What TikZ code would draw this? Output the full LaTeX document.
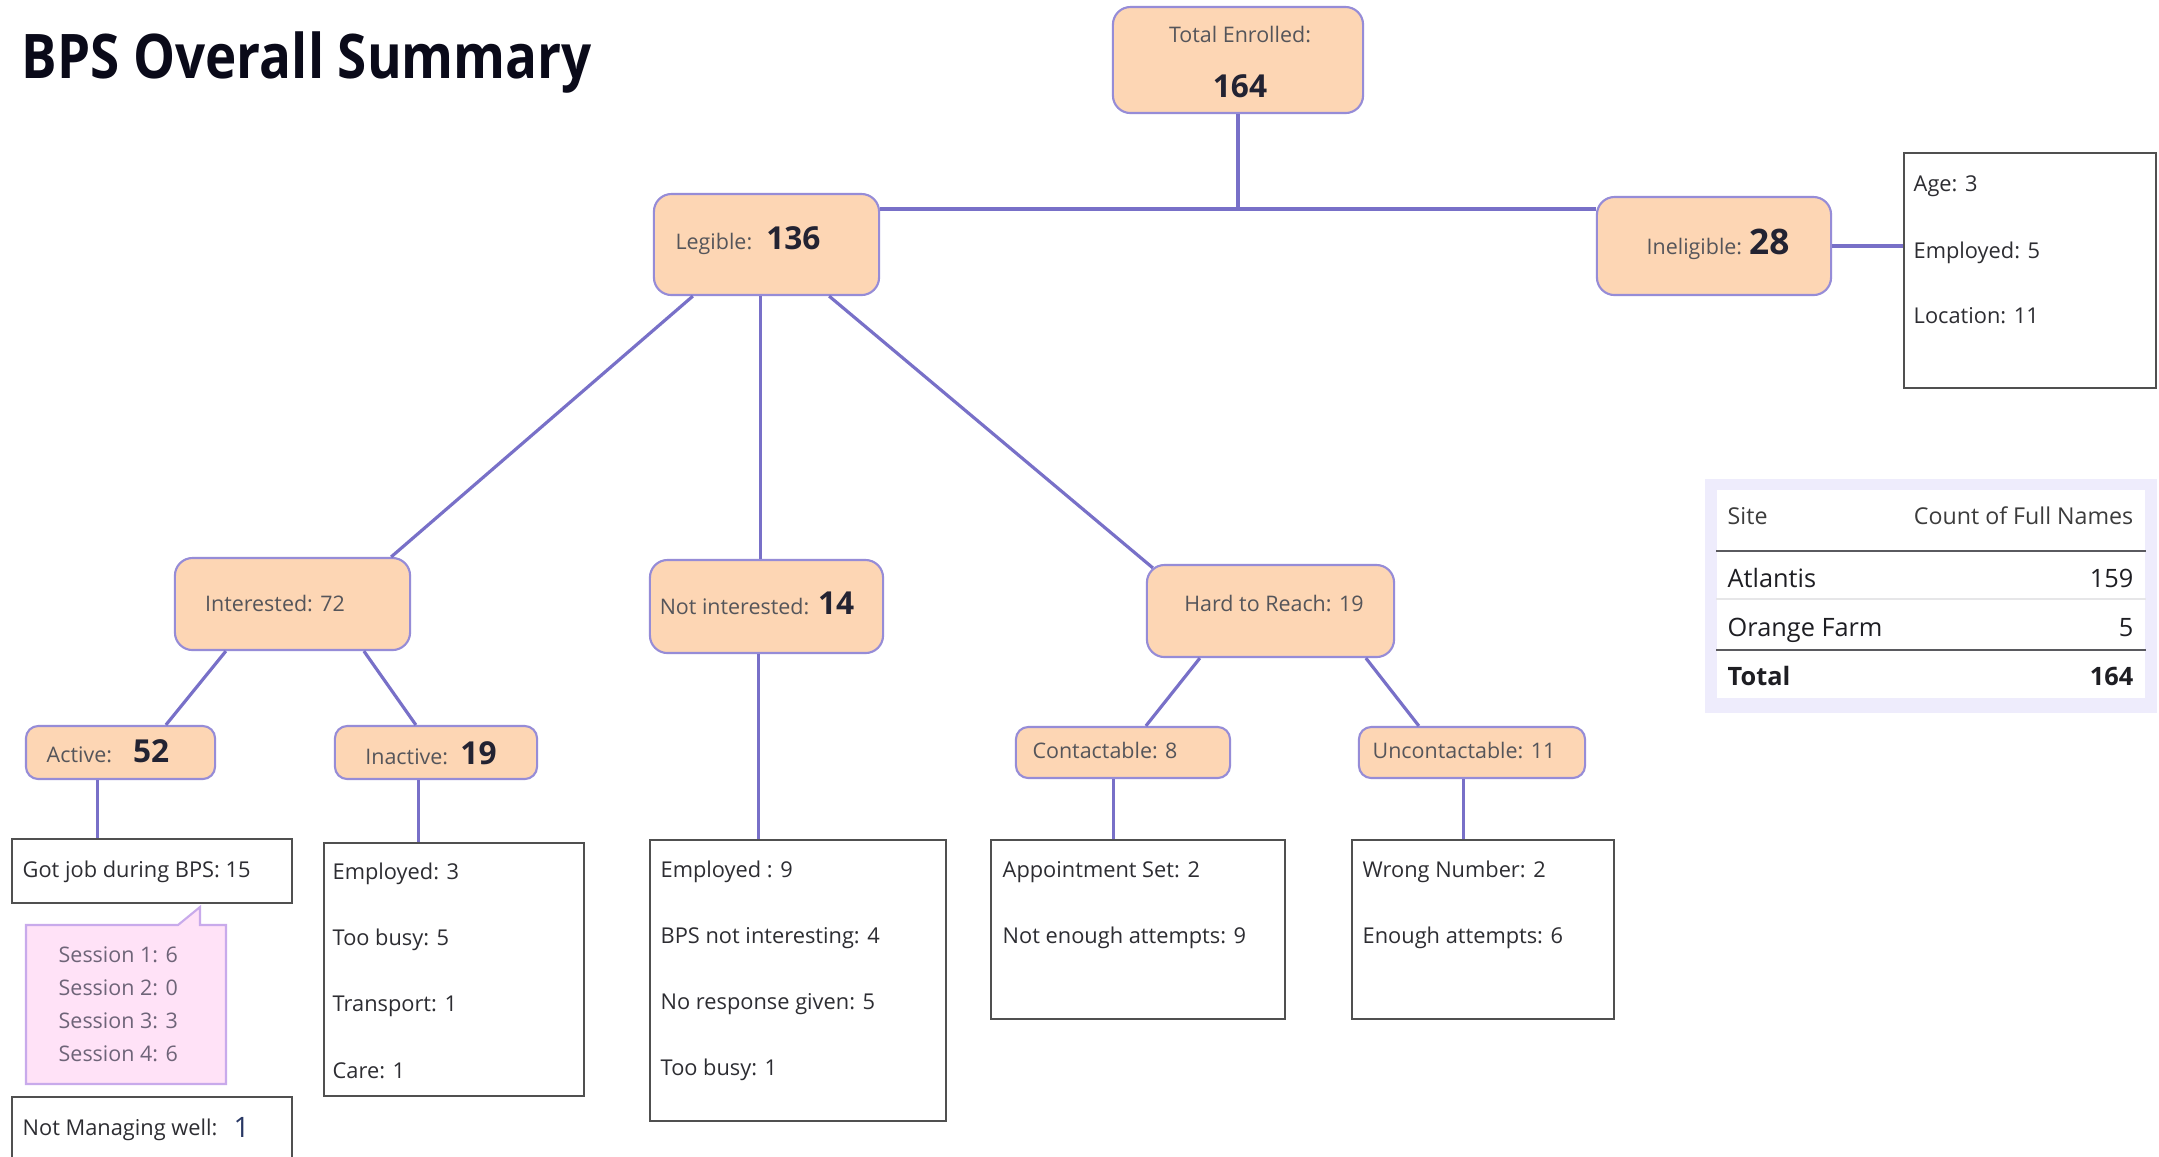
\documentclass[tikz,border=0pt]{standalone}
\usepackage{fontspec}
\setmainfont{Open Sans}
\newfontfamily\titlefont{Open Sans}[FakeStretch=0.86]
\usetikzlibrary{calc}
\definecolor{peach}{RGB}{253,214,180}
\definecolor{lav}{RGB}{150,140,215}
\definecolor{connc}{RGB}{120,112,200}
\definecolor{lblc}{RGB}{85,85,90}
\definecolor{numc}{RGB}{35,35,50}
\definecolor{listc}{RGB}{45,45,50}
\definecolor{wborder}{RGB}{80,80,80}
\definecolor{pinkf}{RGB}{255,226,247}
\definecolor{pinkb}{RGB}{200,170,235}
\definecolor{sessc}{RGB}{110,100,120}
\definecolor{tblbg}{RGB}{238,236,252}
\newcommand\bignum[2][9]{{\fontsize{#1}{#1}\selectfont\bfseries\color{numc}#2}}
\begin{document}
\begin{tikzpicture}[x=0.01cm,y=-0.01cm,
  obox/.style={draw=lav, line width=0.6pt, fill=peach, rounded corners=5pt, inner sep=0pt},
  sbox/.style={obox, rounded corners=3.5pt},
  wbox/.style={draw=wborder, line width=0.6pt, fill=white, inner sep=0pt},
  connline/.style={draw=connc, line width=0.9pt},
  lbltxt/.style={inner sep=0pt, anchor=mid, font=\fontsize{6.1}{7}\selectfont, text=lblc},
  listtxt/.style={inner sep=0pt, anchor=mid west, font=\fontsize{6.2}{7.5}\selectfont, text=listc},
  sesstxt/.style={inner sep=0pt, anchor=mid west, font=\fontsize{6.1}{7}\selectfont, text=sessc},
  hdrtxt/.style={inner sep=0pt, font=\fontsize{6.6}{7.5}\selectfont, text={rgb,255:red,60;green,60;blue,60}},
  rowtxt/.style={inner sep=0pt, font=\fontsize{7.2}{8}\selectfont, text={rgb,255:red,30;green,30;blue,35}},
]
\fill[white] (0,0) rectangle (2159,1156);
\useasboundingbox (0,0) rectangle (2159,1156);

% title
\node[anchor=base west, inner sep=0pt, font=\titlefont\bfseries\fontsize{17.5}{20}\selectfont, text={rgb,255:red,10;green,10;blue,25}] (title) at (21,78) {BPS Overall Summary};

% orange boxes
\node[obox, minimum width=2.50cm, minimum height=1.06cm] (total) at (1238,60) {};
\node[obox, minimum width=2.25cm, minimum height=1.01cm] (legible) at (766.5,244.5) {};
\node[obox, minimum width=2.34cm, minimum height=0.98cm] (inelig) at (1714,246) {};
\node[obox, minimum width=2.35cm, minimum height=0.92cm] (interested) at (292.5,604) {};
\node[obox, minimum width=2.33cm, minimum height=0.93cm] (notint) at (766.5,606.5) {};
\node[obox, minimum width=2.47cm, minimum height=0.92cm] (htr) at (1270.5,611) {};
\node[sbox, minimum width=1.89cm, minimum height=0.53cm] (active) at (120.5,752.5) {};
\node[sbox, minimum width=2.02cm, minimum height=0.53cm] (inactive) at (436,752.5) {};
\node[sbox, minimum width=2.14cm, minimum height=0.51cm] (contact) at (1123,752.5) {};
\node[sbox, minimum width=2.26cm, minimum height=0.51cm] (uncontact) at (1472,752.5) {};

% white boxes
\node[wbox, minimum width=2.52cm, minimum height=2.35cm] (ineligList) at (2030,270.5) {};
\node[wbox, minimum width=2.80cm, minimum height=0.64cm] (gotjob) at (152,871) {};
\node[wbox, minimum width=2.60cm, minimum height=2.53cm] (inactList) at (454,969.5) {};
\node[wbox, minimum width=2.96cm, minimum height=2.81cm] (notintList) at (798,980.5) {};
\node[wbox, minimum width=2.94cm, minimum height=1.79cm] (contactList) at (1138,929.5) {};
\node[wbox, minimum width=2.62cm, minimum height=1.79cm] (uncontactList) at (1483,929.5) {};
\node[wbox, minimum width=2.80cm, minimum height=0.80cm] (notmanaging) at (152,1137) {};

% callout
\draw[fill=pinkf, draw=pinkb, line width=0.6pt] (26,925) -- (178,925) -- (200,907) -- (200,925) -- (226,925) -- (226,1084) -- (26,1084) -- cycle;

% connectors
\coordinate (hbar) at (1238,209);
\draw[connline] (total.south) -- (hbar);
\draw[connline] (legible.east |- hbar) -- (inelig.west |- hbar);
\draw[connline] (inelig.east) -- (inelig.east -| ineligList.west);
\draw[connline] ($(legible.south west)+(40,0)$) -- ($(interested.north east)+(-20,0)$);
\draw[connline] ($(legible.south)+(-6,0)$) -- ($(notint.north)+(-6,0)$);
\draw[connline] ($(legible.south east)+(-51,0)$) -- ($(htr.north west)+(7,4)$);
\draw[connline] ($(interested.south west)+(52,0)$) -- ($(active.north west)+(141,0)$);
\draw[connline] ($(interested.south west)+(190,0)$) -- ($(inactive.north west)+(82,0)$);
\draw[connline] ($(htr.south west)+(54,0)$) -- ($(contact.north west)+(131,0)$);
\draw[connline] ($(htr.south west)+(220,0)$) -- ($(uncontact.north west)+(61,0)$);
\draw[connline] ($(active.south west)+(73,0)$) coordinate (c1) -- (c1 |- gotjob.north);
\draw[connline] ($(inactive.south west)+(85,0)$) coordinate (c2) -- (c2 |- inactList.north);
\draw[connline] ($(notint.south west)+(110,0)$) coordinate (c3) -- (c3 |- notintList.north);
\draw[connline] ($(contact.south west)+(99,0)$) coordinate (c4) -- (c4 |- contactList.north);
\draw[connline] ($(uncontact.south west)+(106,0)$) coordinate (c5) -- (c5 |- uncontactList.north);

% labels in orange boxes
\node[lbltxt] (ttot) at (1240,33) {Total Enrolled:};
\node[inner sep=0pt, anchor=mid] (ttotn) at (1240,88) {\bignum{164}};
\node[lbltxt] (tleg) at (748,240) {Legible:\hspace{4pt}\bignum{136}};
\node[lbltxt] (tinel) at (1718,245) {Ineligible:\hspace{2pt}\bignum[10]{28}};
\node[lbltxt] (tint) at (275,602) {Interested: 72};
\node[lbltxt] (tnot) at (757,605) {Not interested:\hspace{2.5pt}\bignum{14}};
\node[lbltxt] (thtr) at (1274,602) {Hard to Reach: 19};
\node[lbltxt] (tact) at (108,753) {Active:\hspace{6pt}\bignum{52}};
\node[lbltxt] (tinact) at (431,755) {Inactive:\hspace{3.5pt}\bignum{19}};
\node[lbltxt] (tcon) at (1105,749) {Contactable: 8};
\node[lbltxt] (tuncon) at (1464,749) {Uncontactable: 11};

% list texts
\node[listtxt] (l1) at (1913,182) {Age: 3};
\node[listtxt] (l2) at (1913,249) {Employed: 5};
\node[listtxt] (l3) at (1913,314) {Location: 11};
\node[listtxt] (g1) at (22,868) {Got job during BPS: 15};
\node[listtxt] (i1) at (332,870) {Employed: 3};
\node[listtxt] (i2) at (332,936) {Too busy: 5};
\node[listtxt] (i3) at (332,1002) {Transport: 1};
\node[listtxt] (i4) at (332,1069) {Care: 1};
\node[listtxt] (n1) at (660,868) {Employed : 9};
\node[listtxt] (n2) at (660,934) {BPS not interesting: 4};
\node[listtxt] (n3) at (660,1000) {No response given: 5};
\node[listtxt] (n4) at (660,1066) {Too busy: 1};
\node[listtxt] (k1) at (1002,868) {Appointment Set: 2};
\node[listtxt] (k2) at (1002,934) {Not enough attempts: 9};
\node[listtxt] (u1) at (1362,868) {Wrong Number: 2};
\node[listtxt] (u2) at (1362,934) {Enough attempts: 6};
\node[listtxt] (m1) at (22,1126) {Not Managing well:};
\node[inner sep=0pt, anchor=mid west, font=\fontsize{8}{9}\selectfont, text={rgb,255:red,40;green,55;blue,100}] (m2) at (233,1128) {1};

% sessions
\node[sesstxt] (s1) at (58,953) {Session 1: 6};
\node[sesstxt] (s2) at (58,986) {Session 2: 0};
\node[sesstxt] (s3) at (58,1019) {Session 3: 3};
\node[sesstxt] (s4) at (58,1052) {Session 4: 6};

% table
\node[fill=tblbg, inner sep=0pt, minimum width=4.52cm, minimum height=2.34cm] (tbl) at (1931,596) {};
\node[fill=white, inner sep=0pt, minimum width=4.28cm, minimum height=2.08cm] (tblin) at (1931,594) {};
\coordinate (r1) at (0,551);
\coordinate (r2) at (0,599);
\coordinate (r3) at (0,650);
\draw[line width=0.7pt, draw={rgb,255:red,90;green,90;blue,95}] (tblin.west |- r1) -- (tblin.east |- r1);
\draw[line width=0.5pt, draw={rgb,255:red,230;green,230;blue,232}] (tblin.west |- r2) -- (tblin.east |- r2);
\draw[line width=0.7pt, draw={rgb,255:red,90;green,90;blue,95}] (tblin.west |- r3) -- (tblin.east |- r3);
\node[hdrtxt, anchor=mid west] (h1) at (1727,515) {Site};
\node[hdrtxt, anchor=mid east] (h2) at (2134,515) {Count of Full Names};
\node[rowtxt, anchor=mid west] (a1) at (1727,578) {Atlantis};
\node[rowtxt, anchor=mid east] (a2) at (2134,578) {159};
\node[rowtxt, anchor=mid west] (o1) at (1727,627) {Orange Farm};
\node[rowtxt, anchor=mid east] (o2) at (2134,627) {5};
\node[rowtxt, anchor=mid west, font=\fontsize{7.2}{8}\selectfont\bfseries] (t1) at (1727,676) {Total};
\node[rowtxt, anchor=mid east, font=\fontsize{7.2}{8}\selectfont\bfseries] (t2) at (2134,676) {164};
\end{tikzpicture}
\end{document}
